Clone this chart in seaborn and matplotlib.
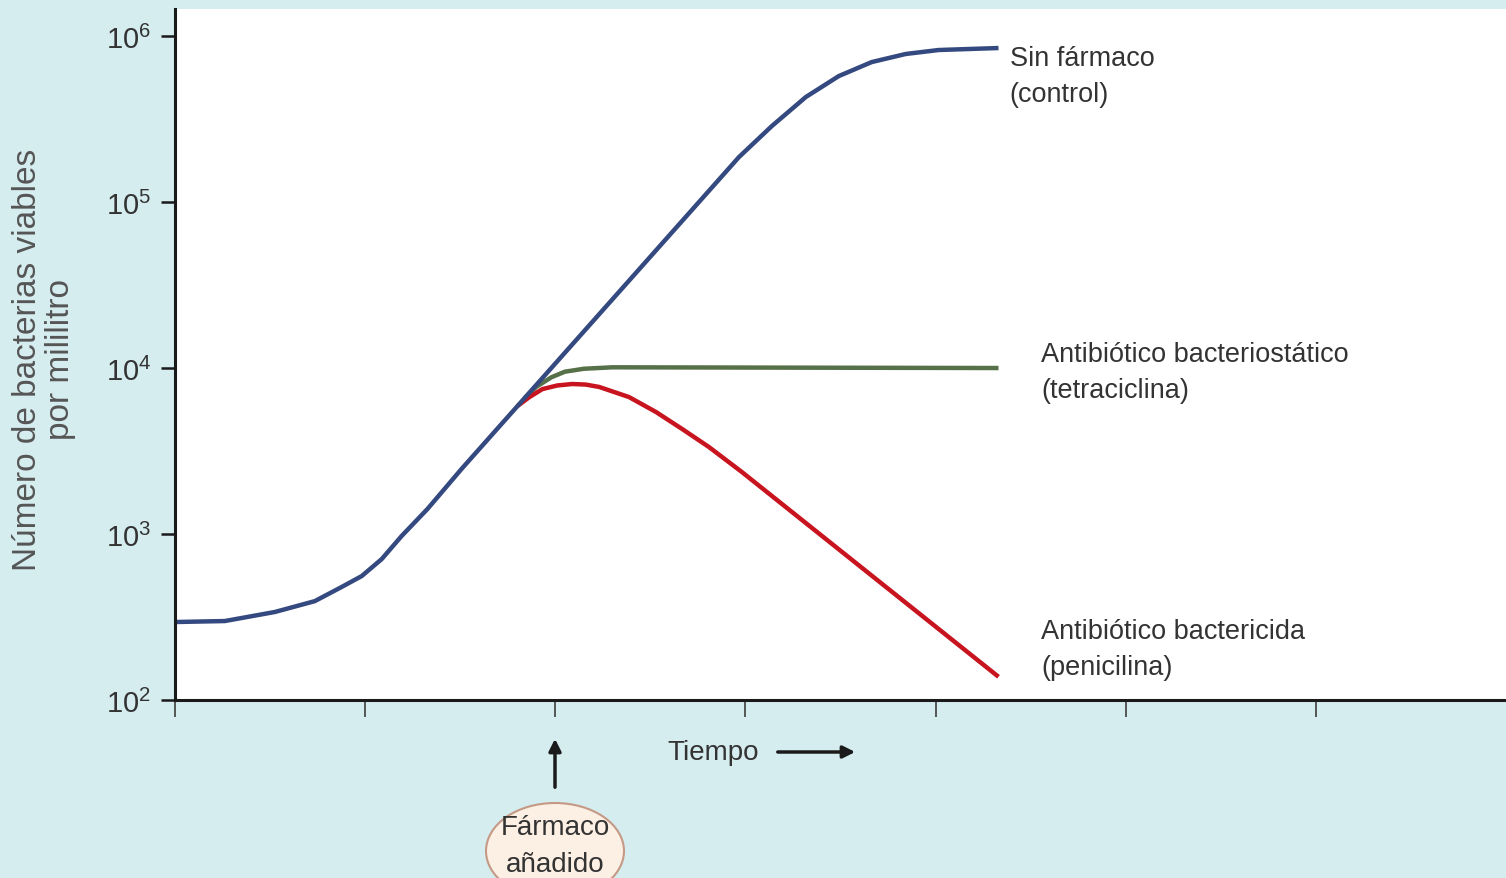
import numpy as np
import pandas as pd
import matplotlib
matplotlib.use("Agg")
import matplotlib.pyplot as plt
import matplotlib.ticker as mticker
from matplotlib.patches import Ellipse
import seaborn as sns

# curvas (tiempo en unidades de marca, bacterias/ml)
t_control = [0.0, 0.262, 0.525, 0.735, 0.877, 0.982, 1.087, 1.192, 1.328, 1.507,
             2.966, 3.139, 3.318, 3.491, 3.664, 3.843, 4.016, 4.331]
n_control = [295, 299, 339, 394, 480, 558, 706, 973, 1416, 2466,
             186600, 287000, 429500, 574000, 697000, 779800, 824000, 847000]

t_tetra = [1.837, 1.90, 1.98, 2.05, 2.15, 2.30, 4.331]
n_tetra = [6561, 7700, 8800, 9500, 9900, 10100, 10000]

t_peni = [1.801, 1.864, 1.932, 2.01, 2.089, 2.16, 2.231, 2.388, 2.530, 2.667, 2.808, 2.982, 4.331]
n_peni = [5902, 6683, 7464, 7850, 8011, 7950, 7690, 6683, 5431, 4293, 3343, 2360, 138]

x_ticks = [0, 1, 2, 3, 4, 5, 6]
y_ticks = [1e2, 1e3, 1e4, 1e5, 1e6]

label_control = "Sin fármaco\n(control)"
label_tetra = "Antibiótico bacteriostático\n(tetraciclina)"
label_peni = "Antibiótico bactericida\n(penicilina)"

sns.set_style("white")
plt.rcParams["font.family"] = ["Liberation Sans", "DejaVu Sans"]

bg = "#d6edf0"
fig = plt.figure(figsize=(15.06, 8.79), dpi=100, facecolor=bg)
ax = fig.add_axes([175 / 1506, 1 - 701 / 879, 1 - 175 / 1506, (701 - 10) / 879])
ax.set_facecolor("white")

df_c = pd.DataFrame({"t": t_control, "n": n_control})
df_t = pd.DataFrame({"t": t_tetra, "n": n_tetra})
df_p = pd.DataFrame({"t": t_peni, "n": n_peni})

line_kw = dict(linewidth=3.2, sort=False, solid_joinstyle="round", solid_capstyle="butt")
sns.lineplot(data=df_t, x="t", y="n", ax=ax, color="#56704a", **line_kw)
sns.lineplot(data=df_p, x="t", y="n", ax=ax, color="#c8141e", **line_kw)
sns.lineplot(data=df_c, x="t", y="n", ax=ax, color="#34497f", **line_kw)

ax.set_yscale("log")
ax.set_ylim(1e2, 10 ** 6.163)
ax.set_xlim(0, 7)
ax.set_yticks(y_ticks)
ax.yaxis.set_minor_locator(mticker.NullLocator())
ax.set_xticks(x_ticks)
ax.set_xticklabels([])
ax.set_xlabel("")
ax.set_ylabel("")

for s in ["top", "right"]:
    ax.spines[s].set_visible(False)
for s in ["left", "bottom"]:
    ax.spines[s].set_linewidth(2.2)
    ax.spines[s].set_color("#1a1a1a")

ax.tick_params(axis="y", left=True, direction="out", length=10, width=1.8, color="#1a1a1a",
               labelsize=21, labelcolor="#333333", pad=7)
ax.tick_params(axis="x", bottom=True, direction="out", length=12, width=1.4, color="#555555")

# etiquetas de las curvas
txt_kw = dict(fontsize=19.5, color="#333333", va="center", ha="left", linespacing=1.5)
ax.text(4.39, 10 ** 5.76, label_control, **txt_kw)
ax.text(4.556, 10 ** 3.976, label_tetra, **txt_kw)
ax.text(4.556, 10 ** 2.307, label_peni, **txt_kw)

# eje y
fig.text(44 / 1506, 1 - 360 / 879, "Número de bacterias viables\npor mililitro", rotation=90,
         ha="center", va="center", fontsize=24, color="#555555", linespacing=1.08)

# tiempo
fig.text(713 / 1506, 1 - 753 / 879, "Tiempo", ha="center", va="center",
         fontsize=20, color="#333333")
ax.annotate("", xy=(858 / 1506, 1 - 753 / 879), xytext=(775 / 1506, 1 - 753 / 879),
            xycoords="figure fraction", textcoords="figure fraction",
            arrowprops=dict(arrowstyle="-|>", color="#1a1a1a", lw=2.5, mutation_scale=18),
            annotation_clip=False)

# fármaco añadido
ax.annotate("", xy=(555 / 1506, 1 - 737 / 879), xytext=(555 / 1506, 1 - 791 / 879),
            xycoords="figure fraction", textcoords="figure fraction",
            arrowprops=dict(arrowstyle="-|>", color="#1a1a1a", lw=2.5, mutation_scale=18),
            annotation_clip=False)
ell = Ellipse((555 / 1506, 1 - 852 / 879), 138 / 1506, 96 / 879, transform=fig.transFigure,
              facecolor="#fcefe3", edgecolor="#c49a86", linewidth=1.5)
fig.patches.append(ell)
fig.text(555 / 1506, 1 - 847 / 879, "Fármaco\nañadido", ha="center", va="center",
         fontsize=20, color="#333333", linespacing=1.55)

fig.savefig("out.png", dpi=100, facecolor=bg)
